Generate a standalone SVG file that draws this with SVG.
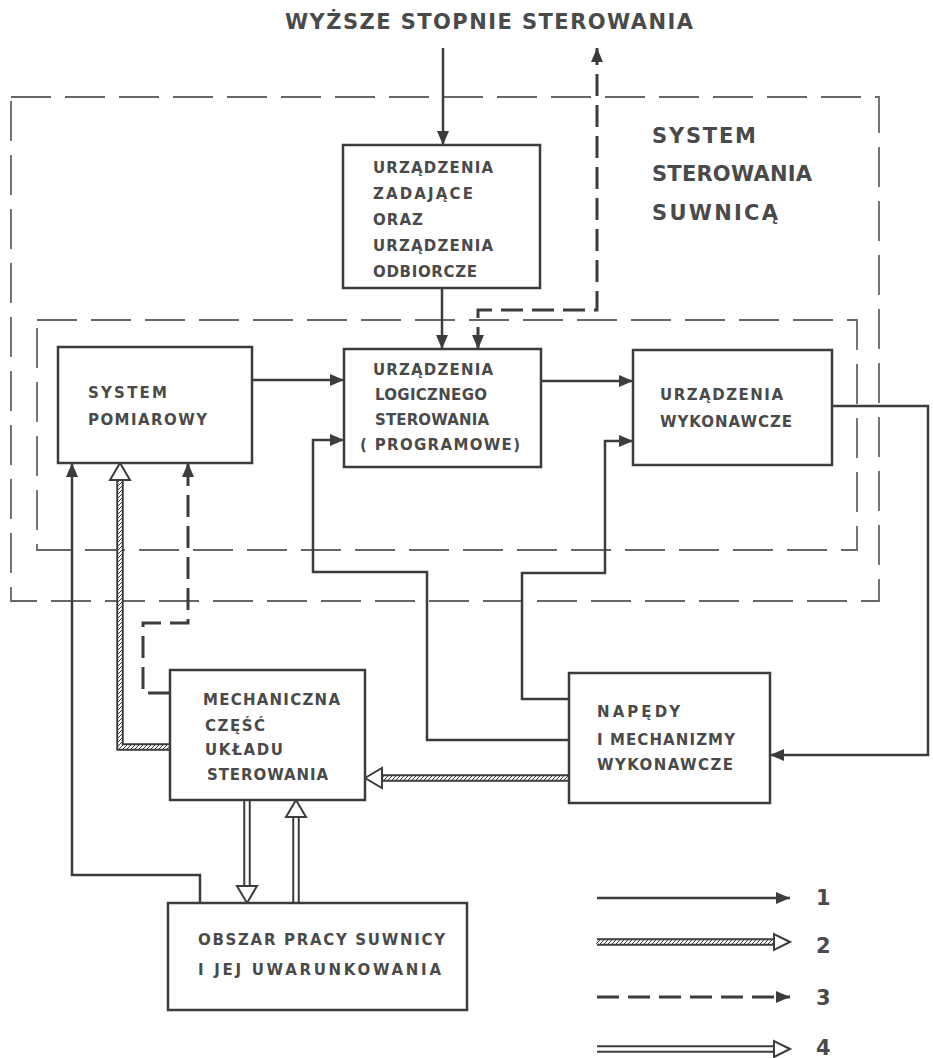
<svg xmlns="http://www.w3.org/2000/svg" width="933" height="1058" viewBox="0 0 933 1058">
<style>
.box{fill:#fff;stroke:#3c3c3c;stroke-width:2.5}
.frame{fill:none;stroke:#666;stroke-width:1.8;stroke-dasharray:40 14}
.t{font-family:"DejaVu Sans","Liberation Sans",Arial,sans-serif;font-weight:bold;font-size:15px;fill:#4a4a4a}
.big{font-size:21px}
.title{font-size:21px}
.sol{fill:none;stroke:#3c3c3c;stroke-width:2.5}
.dsh{fill:none;stroke:#3c3c3c;stroke-width:3;stroke-dasharray:22 9}
.dblo{fill:none;stroke:#3c3c3c;stroke-width:7.5}
.dbli{fill:none;stroke:#fff;stroke-width:3.5}
.dblh{fill:none;stroke:url(#hatch);stroke-width:3.5}
.head{fill:#fff;stroke:#3c3c3c;stroke-width:2;stroke-linejoin:miter}
</style>
<defs>
<marker id="arr" viewBox="0 0 14 12" refX="14" refY="6" markerWidth="14" markerHeight="12" markerUnits="userSpaceOnUse" orient="auto-start-reverse">
<path d="M0,0 L14,6 L0,12 z" fill="#3c3c3c"/>
</marker>
<pattern id="hatch" patternUnits="userSpaceOnUse" width="4" height="4">
<rect width="4" height="4" fill="#fff"/>
<path d="M-1,1 L1,-1 M0,4 L4,0 M3,5 L5,3" stroke="#3c3c3c" stroke-width="1"/>
</pattern>
</defs>
<rect width="933" height="1058" fill="#fff"/>

<g id="frames">
<rect class="frame" x="11" y="97" width="868" height="504"/>
<rect class="frame" x="37" y="320" width="820" height="230"/>
</g>

<g id="title">
<text class="t title" x="285" y="29" textLength="408" lengthAdjust="spacing">WYŻSZE  STOPNIE  STEROWANIA</text>
</g>
<g id="system-label">
<text class="t big" x="652" y="143" textLength="104" lengthAdjust="spacing">SYSTEM</text>
<text class="t big" x="652" y="181" textLength="160" lengthAdjust="spacing">STEROWANIA</text>
<text class="t big" x="652" y="220" textLength="126" lengthAdjust="spacing">SUWNICĄ</text>
</g>

<g id="connectors">
<path class="sol" d="M443,48 V145" marker-end="url(#arr)"/>
<path class="sol" d="M442,288 V349" marker-end="url(#arr)"/>
<path class="sol" d="M252,380 H344" marker-end="url(#arr)"/>
<path class="sol" d="M541,381 H633" marker-end="url(#arr)"/>
<path class="sol" d="M569,740 H427 V572 H313 V440 H344" marker-end="url(#arr)"/>
<path class="sol" d="M569,699 H522 V573 H605 V441 H633" marker-end="url(#arr)"/>
<path class="sol" d="M832,406 H928 V755 H770" marker-end="url(#arr)"/>
<path class="sol" d="M200,903 V875 H72 V463" marker-end="url(#arr)"/>
<path class="dsh" d="M478,349 V310 H597 V48" marker-start="url(#arr)" marker-end="url(#arr)"/>
<path class="dsh" d="M170,693 H143 V623 H188 V463" marker-end="url(#arr)"/>
<path class="dblo" d="M170,747 H120 V479"/>
<path class="dblh" d="M171,747 H120 V478"/>
<polygon class="head" points="120,463 110,480 130,480"/>
<path class="dblo" d="M569,778 H381"/>
<path class="dblh" d="M570,778 H380"/>
<polygon class="head" points="365,778 382,768 382,788"/>
<path class="dblo" d="M247,800 V887"/>
<path class="dbli" d="M247,799 V888"/>
<polygon class="head" points="247,903 237,886 257,886"/>
<path class="dblo" d="M296,903 V816"/>
<path class="dbli" d="M296,904 V815"/>
<polygon class="head" points="296,800 286,817 306,817"/>
</g>

<g id="n-zadajace">
<rect class="box" x="343" y="145" width="197" height="143"/>
<text class="t" x="373" y="173" textLength="120" lengthAdjust="spacing">URZĄDZENIA</text>
<text class="t" x="373" y="199" textLength="100" lengthAdjust="spacing">ZADAJĄCE</text>
<text class="t" x="373" y="225" textLength="50" lengthAdjust="spacing">ORAZ</text>
<text class="t" x="373" y="251" textLength="120" lengthAdjust="spacing">URZĄDZENIA</text>
<text class="t" x="373" y="277" textLength="104" lengthAdjust="spacing">ODBIORCZE</text>
</g>
<g id="n-logiczne">
<rect class="box" x="344" y="349" width="197" height="118"/>
<text class="t" x="373" y="375" textLength="120" lengthAdjust="spacing">URZĄDZENIA</text>
<text class="t" x="375" y="400" textLength="112" lengthAdjust="spacing">LOGICZNEGO</text>
<text class="t" x="375" y="425" textLength="114" lengthAdjust="spacing">STEROWANIA</text>
<text class="t" x="360" y="450" textLength="160" lengthAdjust="spacing">( PROGRAMOWE)</text>
</g>
<g id="n-pomiarowy">
<rect class="box" x="58" y="347" width="194" height="116"/>
<text class="t" x="88" y="398" textLength="79" lengthAdjust="spacing">SYSTEM</text>
<text class="t" x="88" y="425" textLength="119" lengthAdjust="spacing">POMIAROWY</text>
</g>
<g id="n-wykonawcze">
<rect class="box" x="633" y="350" width="199" height="115"/>
<text class="t" x="660" y="400" textLength="123" lengthAdjust="spacing">URZĄDZENIA</text>
<text class="t" x="660" y="427" textLength="132" lengthAdjust="spacing">WYKONAWCZE</text>
</g>
<g id="n-mechaniczna">
<rect class="box" x="170" y="670" width="195" height="130"/>
<text class="t" x="203" y="705" textLength="137" lengthAdjust="spacing">MECHANICZNA</text>
<text class="t" x="205" y="731" textLength="60" lengthAdjust="spacing">CZĘŚĆ</text>
<text class="t" x="205" y="755" textLength="78" lengthAdjust="spacing">UKŁADU</text>
<text class="t" x="207" y="780" textLength="121" lengthAdjust="spacing">STEROWANIA</text>
</g>
<g id="n-napedy">
<rect class="box" x="569" y="673" width="201" height="130"/>
<text class="t" x="597" y="717" textLength="83" lengthAdjust="spacing">NAPĘDY</text>
<text class="t" x="597" y="745" textLength="138" lengthAdjust="spacing">I MECHANIZMY</text>
<text class="t" x="597" y="770" textLength="136" lengthAdjust="spacing">WYKONAWCZE</text>
</g>
<g id="n-obszar">
<rect class="box" x="168" y="903" width="299" height="107"/>
<text class="t" x="198" y="945" textLength="247" lengthAdjust="spacing">OBSZAR  PRACY SUWNICY</text>
<text class="t" x="198" y="975" textLength="243" lengthAdjust="spacing">I  JEJ  UWARUNKOWANIA</text>
</g>

<g id="legend">
<path class="sol" d="M597,898 H790" marker-end="url(#arr)"/>
<path class="dblo" d="M597,942 H775"/>
<path class="dblh" d="M596,942 H776"/>
<polygon class="head" points="790,942 774,934 774,950"/>
<path class="dsh" d="M597,997 H790" marker-end="url(#arr)"/>
<path class="dblo" d="M597,1049 H775"/>
<path class="dbli" d="M596,1049 H776"/>
<polygon class="head" points="790,1049 774,1041 774,1057"/>
<text class="t big" x="816" y="905">1</text>
<text class="t big" x="816" y="953">2</text>
<text class="t big" x="816" y="1005">3</text>
<text class="t big" x="816" y="1055">4</text>
</g>
</svg>
